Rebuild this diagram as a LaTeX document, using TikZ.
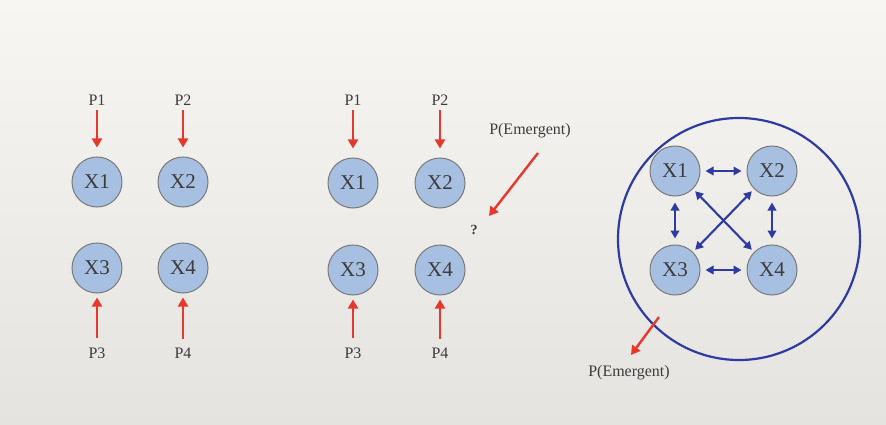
\documentclass[tikz,border=0pt]{standalone}
\usepackage{fontspec}
\setmainfont{Liberation Serif}
\usetikzlibrary{arrows.meta}
\definecolor{bgtop}{HTML}{F7F6F2}
\definecolor{bgbot}{HTML}{E4E3DF}
\definecolor{nodefill}{HTML}{A7BFE0}
\definecolor{nodeedge}{HTML}{7A7A7A}
\definecolor{redarr}{HTML}{E8382C}
\definecolor{bluearr}{HTML}{2E3BA3}
\definecolor{txt}{HTML}{3C3C3C}
\tikzset{
  xnode/.style={circle, draw=nodeedge, line width=1pt, fill=nodefill, minimum size=50pt, inner sep=0pt, font=\fontsize{21}{21}\selectfont, text=txt},
  plabel/.style={font=\fontsize{16}{16}\selectfont, text=txt, inner sep=1pt},
  redarrow/.style={draw=redarr, line width=2.4pt, -{Triangle[length=9pt,width=10pt]}},
  bluearrow/.style={draw=bluearr, line width=2.1pt, {Triangle[length=8pt,width=8.5pt]}-{Triangle[length=8pt,width=8.5pt]}},
}
\begin{document}
\begin{tikzpicture}[x=1pt,y=-1pt]
\shade[top color=bgtop, bottom color=bgbot] (0,0) rectangle (886,425);
\useasboundingbox (0,0) rectangle (886,425);
% left group
\node[xnode] (a1) at (97,182) {X1};
\node[xnode] (a2) at (183,182) {X2};
\node[xnode] (a3) at (97,268) {X3};
\node[xnode] (a4) at (183,268) {X4};
\node[plabel] (ap1) at (97,100) {P1};
\node[plabel] (ap2) at (183,100) {P2};
\node[plabel] (ap3) at (97,353) {P3};
\node[plabel] (ap4) at (183,353) {P4};
\draw[redarrow] ([yshift=-4pt]ap1.south) -- ([yshift=9pt]a1.north);
\draw[redarrow] ([yshift=-4pt]ap2.south) -- ([yshift=9pt]a2.north);
\draw[redarrow] ([yshift=8pt]ap3.north) -- ([yshift=-4pt]a3.south);
\draw[redarrow] ([yshift=8pt]ap4.north) -- ([yshift=-4pt]a4.south);
% middle group
\node[xnode] (b1) at (353,183) {X1};
\node[xnode] (b2) at (440,183) {X2};
\node[xnode] (b3) at (353,270) {X3};
\node[xnode] (b4) at (440,270) {X4};
\node[plabel] (bp1) at (353,100) {P1};
\node[plabel] (bp2) at (440,100) {P2};
\node[plabel] (bp3) at (353,353) {P3};
\node[plabel] (bp4) at (440,353) {P4};
\draw[redarrow] ([yshift=-4pt]bp1.south) -- ([yshift=9pt]b1.north);
\draw[redarrow] ([yshift=-4pt]bp2.south) -- ([yshift=9pt]b2.north);
\draw[redarrow] ([yshift=8pt]bp3.north) -- ([yshift=-4pt]b3.south);
\draw[redarrow] ([yshift=8pt]bp4.north) -- ([yshift=-4pt]b4.south);
\node[plabel] (pe1) at (530,131) {P(Emergent)};
\node[plabel, font=\bfseries\fontsize{14}{14}\selectfont] (q) at (474,230) {?};
\coordinate (pe1s) at (538,153);
\coordinate (qt) at (489,216);
\draw[redarrow] (pe1s) -- (qt);
% right group
\node[circle, draw=bluearr, line width=2.2pt, minimum size=242pt, inner sep=0pt] (big) at (739,239) {};
\node[xnode] (c1) at (675,171) {X1};
\node[xnode] (c2) at (772,171) {X2};
\node[xnode] (c3) at (675,270) {X3};
\node[xnode] (c4) at (772,270) {X4};
\draw[bluearrow] ([xshift=5pt]c1.east) -- ([xshift=-5pt]c2.west);
\draw[bluearrow] ([xshift=5pt]c3.east) -- ([xshift=-5pt]c4.west);
\draw[bluearrow] ([yshift=-6pt]c1.south) -- ([yshift=6pt]c3.north);
\draw[bluearrow] ([yshift=-6pt]c2.south) -- ([yshift=6pt]c4.north);
\draw[bluearrow, shorten <=3pt, shorten >=3pt] (c1.south east) -- (c4.north west);
\draw[bluearrow, shorten <=3pt, shorten >=3pt] (c2.south west) -- (c3.north east);
% emergent below
\node[plabel] (pe2) at (629,373) {P(Emergent)};
\coordinate (bigs) at (659,317);
\coordinate (pe2t) at (631,355);
\draw[redarrow] (bigs) -- (pe2t);
\end{tikzpicture}
\end{document}
